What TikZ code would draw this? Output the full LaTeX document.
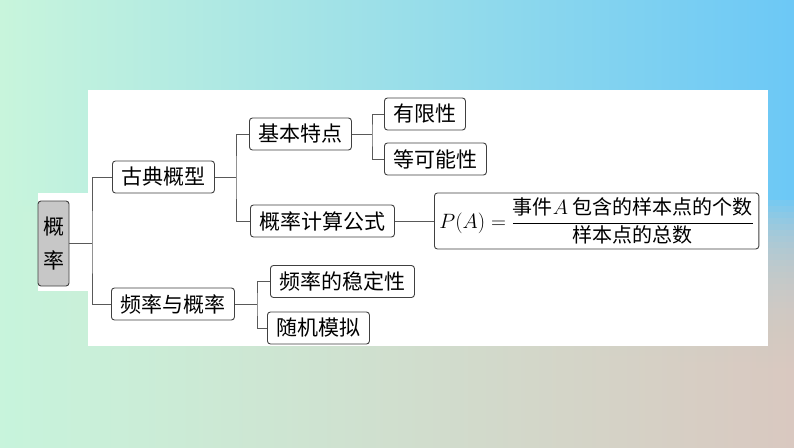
\documentclass[tikz,border=0pt]{standalone}
\usepackage{amsmath}
\usepackage{fontspec}
\setmainfont{Noto Sans CJK SC}
\definecolor{bgTL}{HTML}{C8F5DC}
\definecolor{bgTM}{HTML}{80E2F4}
\definecolor{bgTR}{HTML}{6CC8F6}
\definecolor{bgBL}{HTML}{D0F4DC}
\definecolor{bgBM}{HTML}{ECD8C4}
\definecolor{bgBR}{HTML}{E2CCC0}

\begin{document}
\begin{tikzpicture}[x=1pt,y=-1pt,
    box/.style={draw=black!75, line width=0.9pt, rounded corners=3pt, fill=white,
                minimum height=32pt, inner xsep=9pt, inner ysep=2pt,
                font=\fontsize{21}{34}\selectfont},
    link/.style={draw=black!65, line width=0.9pt}]
    % 背景渐变与白色底板
    \useasboundingbox (0,0) rectangle (794,447);
    \shade[left color=bgTL, middle color=bgTM, right color=bgTR] (0,0) rectangle (794,447);
    \foreach \k in {0,...,39} {
        \shade[left color=bgBL, middle color=bgBM, right color=bgBR, opacity=0.1] (0,200+\k*6) rectangle (794,447);
    }
    \fill[white] (88,90) rectangle (768,346);
    \fill[white] (38,193) rectangle (88,291);
    % 结构图各节点
    \node[box, fill=black!22, minimum width=31pt, minimum height=85pt, inner sep=0pt, align=center] (gailv) at (53.5,243.5) {概\\率};
    \node[box, anchor=west] (gudian) at (112,177) {古典概型};
    \node[box, anchor=west] (pinlv) at (111,304) {频率与概率};
    \node[box, anchor=west] (jiben) at (249,134) {基本特点};
    \node[box, anchor=west] (gongshi) at (250,221) {概率计算公式};
    \node[box, anchor=west] (youxian) at (384,114) {有限性};
    \node[box, anchor=west] (dengke) at (384,159) {等可能性};
    \node[box, anchor=west, minimum height=56pt, inner xsep=5pt, font=\fontsize{20}{24}\selectfont] (jisuan) at (434,221)
        {$P(A)=\dfrac{\text{事件}A\text{ 包含的样本点的个数}}{\text{样本点的总数}}$};
    \node[box, anchor=west] (wending) at (270,281.5) {频率的稳定性};
    \node[box, anchor=west] (moni) at (267,328) {随机模拟};
    % 分支连线
    \coordinate (j1) at (92,243.5);
    \coordinate (j2) at (236,177);
    \coordinate (j3) at (372,134);
    \coordinate (j4) at (257,304);
    \draw[link] (gailv.east) -- (j1);
    \draw[link] (gudian.west) -| (j1) |- (pinlv.west);
    \draw[link] (gudian.east) -- (j2);
    \draw[link] (jiben.west) -| (j2) |- (gongshi.west);
    \draw[link] (jiben.east) -- (j3);
    \draw[link] (youxian.west) -| (j3) |- (dengke.west);
    \draw[link] (pinlv.east) -- (j4);
    \draw[link] (wending.west) -| (j4) |- (moni.west);
    \draw[link] (gongshi.east) -- (jisuan.west);
\end{tikzpicture}
\end{document}
